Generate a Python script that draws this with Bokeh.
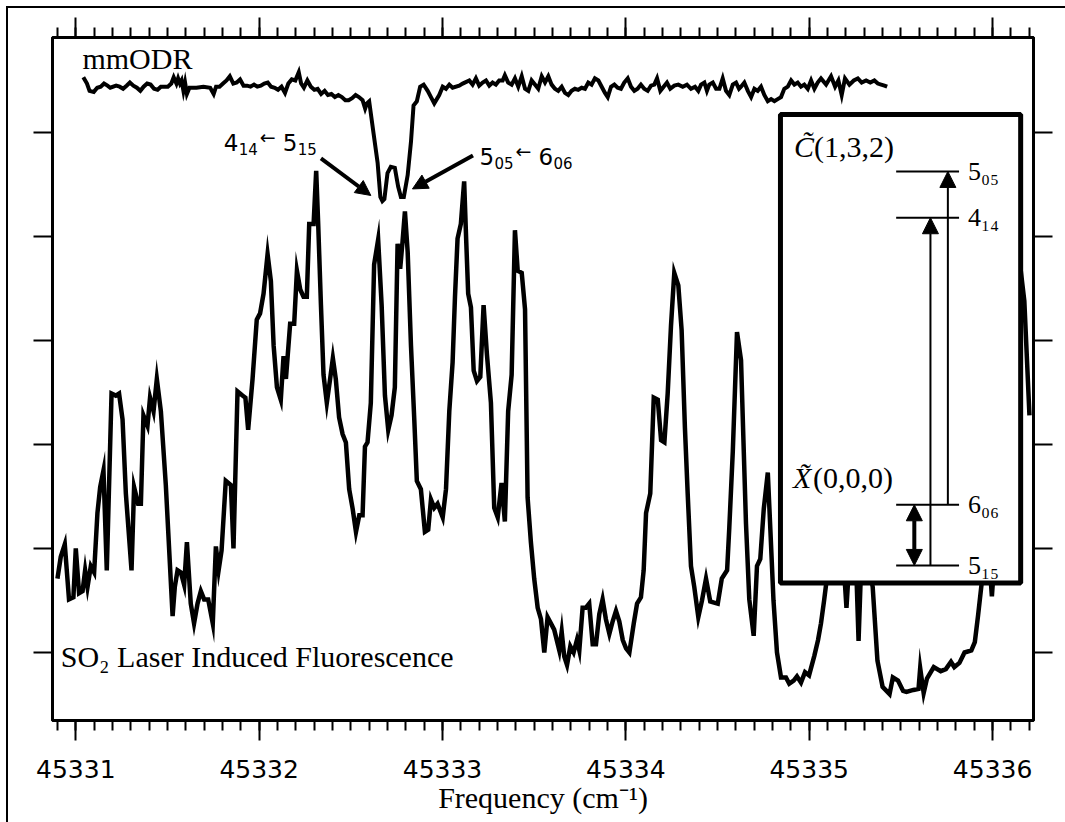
from bokeh.plotting import figure
from bokeh.models import (FixedTicker, LinearAxis, Range1d, Arrow, NormalHead,
                          CustomJSTickFormatter, BasicTickFormatter, GlobalInlineStyleSheet)
from bokeh.embed import file_html
from bokeh.resources import INLINE
from bokeh.core.properties import value

SERIF = "Liberation Serif"
SANS = "DejaVu Sans"

# ---------------- data ----------------
lif_freq = [
    45330.900, 45330.918, 45330.940, 45330.963, 45330.987, 45331.000, 45331.018, 45331.037, 45331.051, 45331.064,
    45331.082, 45331.100, 45331.118, 45331.133, 45331.151, 45331.169, 45331.195, 45331.218, 45331.236, 45331.255,
    45331.273, 45331.304, 45331.318, 45331.340, 45331.355, 45331.369, 45331.391, 45331.405, 45331.424, 45331.442,
    45331.464, 45331.491, 45331.528, 45331.540, 45331.555, 45331.573, 45331.591, 45331.606, 45331.627, 45331.645,
    45331.664, 45331.682, 45331.700, 45331.722, 45331.747, 45331.764, 45331.779, 45331.795, 45331.818, 45331.846,
    45331.860, 45331.882, 45331.909, 45331.925, 45331.940,
    45331.964, 45331.987, 45332.005, 45332.024, 45332.046, 45332.064, 45332.079, 45332.097, 45332.118, 45332.133,
    45332.146, 45332.169, 45332.191, 45332.206, 45332.224, 45332.242, 45332.260, 45332.273, 45332.297, 45332.311,
    45332.322, 45332.337, 45332.351, 45332.369, 45332.387, 45332.402, 45332.418, 45332.436, 45332.455, 45332.473,
    45332.491, 45332.510, 45332.528, 45332.546, 45332.564, 45332.577, 45332.591, 45332.609, 45332.627, 45332.649,
    45332.668, 45332.686, 45332.704, 45332.722, 45332.740, 45332.755, 45332.769, 45332.782, 45332.795, 45332.810,
    45332.828, 45332.846, 45332.860, 45332.882, 45332.904, 45332.922, 45332.937, 45332.955, 45332.973, 45333.001,
    45333.019, 45333.037, 45333.055, 45333.068, 45333.082, 45333.100, 45333.118, 45333.129, 45333.140, 45333.155,
    45333.170, 45333.188, 45333.206, 45333.224, 45333.242, 45333.264, 45333.282, 45333.301, 45333.322, 45333.340,
    45333.358, 45333.377, 45333.395, 45333.410, 45333.432, 45333.450, 45333.464, 45333.482, 45333.500, 45333.519,
    45333.537, 45333.555, 45333.573, 45333.591, 45333.609, 45333.637, 45333.650, 45333.664, 45333.679, 45333.697,
    45333.715, 45333.733, 45333.746, 45333.764, 45333.782, 45333.800, 45333.819, 45333.837, 45333.855, 45333.873,
    45333.891, 45333.910, 45333.928, 45333.946, 45333.964, 45333.983, 45334.001, 45334.019, 45334.043, 45334.061,
    45334.082, 45334.097, 45334.110, 45334.133, 45334.152, 45334.174, 45334.192, 45334.210, 45334.228, 45334.246,
    45334.264, 45334.286, 45334.304, 45334.322, 45334.337, 45334.355, 45334.373, 45334.395, 45334.415, 45334.437,
    45334.460, 45334.481, 45334.501, 45334.523, 45334.552, 45334.564, 45334.583, 45334.606, 45334.628, 45334.643,
    45334.655, 45334.673, 45334.697, 45334.715, 45334.733, 45334.752, 45334.774, 45334.788, 45334.805, 45334.824,
    45334.846, 45334.873, 45334.891, 45334.915, 45334.933, 45334.955, 45334.977, 45334.999, 45335.028, 45335.048,
    45335.064, 45335.081, 45335.108, 45335.163, 45335.190, 45335.203, 45335.217, 45335.255, 45335.269, 45335.283,
    45335.315, 45335.346, 45335.372, 45335.400, 45335.438, 45335.456, 45335.484, 45335.512, 45335.530, 45335.568,
    45335.596, 45335.605, 45335.624, 45335.642, 45335.679, 45335.717, 45335.745, 45335.773, 45335.791, 45335.819,
    45335.847, 45335.884, 45335.903, 45335.921, 45335.940, 45335.965, 45335.984, 45335.996, 45336.008, 45336.074,
    45336.155, 45336.173, 45336.201,
]
lif_intensity = [
    7.1, 9.2, 10.4, 5.1, 5.3, 10.0, 5.7, 5.9, 7.9, 6.3,
    8.3, 7.7, 13.4, 15.9, 17.5, 7.9, 24.9, 24.7, 24.9, 22.4,
    15.3, 7.9, 15.9, 14.3, 14.3, 22.8, 21.8, 24.5, 23.2, 26.3,
    23.2, 16.1, 3.5, 6.3, 7.9, 7.7, 6.5, 10.6, 4.7, 2.8,
    4.7, 5.9, 5.1, 5.1, 2.8, 10.2, 7.9, 9.8, 16.5, 16.1,
    10.0, 25.1, 24.7, 24.5, 21.4,
    26.3, 32.0, 32.6, 34.5, 38.3, 35.7, 29.5, 25.5, 24.3, 28.5,
    26.3, 31.6, 31.6, 36.7, 34.9, 34.2, 34.2, 41.2, 41.2, 46.3,
    41.2, 33.4, 26.7, 24.0, 26.3, 28.3, 26.3, 22.6, 21.0, 20.2,
    15.7, 13.8, 11.6, 13.2, 13.2, 19.8, 20.2, 24.0, 37.3, 39.7,
    33.4, 24.7, 21.4, 22.8, 25.5, 39.3, 36.9, 39.5, 42.4, 38.5,
    29.5, 22.4, 16.5, 15.7, 11.6, 11.8, 14.7, 13.9, 14.3, 13.0,
    15.7, 23.2, 27.9, 34.2, 39.8, 41.2, 45.3, 39.7, 34.5, 33.2,
    27.1, 26.1, 26.5, 33.4, 28.7, 24.0, 13.9, 13.0, 16.3, 12.6,
    23.2, 26.7, 40.6, 36.7, 36.5, 33.0, 14.9, 10.6, 7.1, 4.3,
    3.2, 0.0, 3.4, 2.8, 2.2, 0.2, 2.0, -0.4, -1.2, 0.6,
    0.0, 1.2, 0.2, 4.3, 4.3, 4.7, 0.8, 0.8, 3.7, 5.1,
    3.2, 1.8, 3.0, 4.0, 3.0, 1.2, 0.4, 0.0, 2.8, 4.7,
    5.3, 7.9, 13.4, 15.3, 24.5, 24.3, 20.4, 20.2, 24.9, 31.4,
    36.5, 35.3, 31.0, 21.6, 15.3, 8.3, 6.3, 3.4, 5.0, 7.1,
    4.9, 4.8, 4.7, 7.1, 7.9, 12.0, 19.3, 30.8, 28.1, 19.3,
    12.4, 5.1, 1.6, 8.3, 9.0, 13.8, 17.3, 11.8, 5.0, 0.0,
    -2.4, -2.4, -3.0, -2.7, -2.3, -2.9, -1.9, -2.2, -0.3, 1.2,
    2.8, 5.0, 8.8, 10.8, 7.9, 4.3, 8.4, 8.8, 1.1, 8.4,
    9.3, 6.3, -0.8, -3.3, -4.0, -2.4, -2.7, -3.7, -3.8, -3.6,
    -3.5, -1.5, -3.9, -2.5, -1.4, -1.8, -1.6, -0.9, -1.4, -1.0,
    0.0, 0.2, 1.0, 3.6, 6.6, 8.8, 8.4, 5.4, 8.4, 22.3,
    36.5, 33.8, 22.8,
]

odr_freq = [
    45331.041, 45331.061, 45331.075, 45331.098, 45331.117, 45331.136, 45331.154, 45331.173, 45331.188, 45331.220,
    45331.239, 45331.258, 45331.277, 45331.295, 45331.314, 45331.333, 45331.352, 45331.370, 45331.389, 45331.408,
    45331.427, 45331.446, 45331.464, 45331.502, 45331.521, 45331.534, 45331.549, 45331.558, 45331.568, 45331.577,
    45331.587, 45331.596, 45331.606, 45331.620, 45331.658, 45331.696, 45331.733, 45331.752, 45331.765, 45331.784,
    45331.803, 45331.822, 45331.840, 45331.859, 45331.878, 45331.896, 45331.915, 45331.934, 45331.953, 45331.972,
    45331.990, 45332.009, 45332.028, 45332.047, 45332.065, 45332.085, 45332.103, 45332.122, 45332.141, 45332.159,
    45332.178, 45332.197, 45332.216, 45332.229, 45332.244, 45332.263, 45332.282, 45332.301, 45332.319, 45332.338,
    45332.357, 45332.375, 45332.394, 45332.413, 45332.432, 45332.451, 45332.470, 45332.488, 45332.507, 45332.526,
    45332.544, 45332.564, 45332.578, 45332.588, 45332.600, 45332.624, 45332.646, 45332.661, 45332.672, 45332.683,
    45332.700, 45332.718, 45332.740, 45332.758, 45332.773, 45332.789, 45332.810, 45332.828, 45332.842, 45332.860,
    45332.878, 45332.897, 45332.919, 45332.937, 45332.955, 45332.982, 45333.001, 45333.019, 45333.037, 45333.055,
    45333.091, 45333.110, 45333.146, 45333.164, 45333.182, 45333.200, 45333.219, 45333.237, 45333.255, 45333.273,
    45333.291, 45333.309, 45333.328, 45333.340, 45333.358, 45333.377, 45333.395, 45333.413, 45333.432, 45333.450,
    45333.468, 45333.486, 45333.504, 45333.522, 45333.541, 45333.559, 45333.577, 45333.595, 45333.613, 45333.631,
    45333.650, 45333.668, 45333.686, 45333.704, 45333.722, 45333.740, 45333.759, 45333.777, 45333.795, 45333.813,
    45333.831, 45333.850, 45333.868, 45333.886, 45333.901, 45333.919, 45333.937, 45333.955, 45333.973, 45333.991,
    45334.010, 45334.028, 45334.046, 45334.064, 45334.082, 45334.100, 45334.119, 45334.137, 45334.155, 45334.170,
    45334.188, 45334.206, 45334.224, 45334.242, 45334.264, 45334.286, 45334.310, 45334.333, 45334.355, 45334.377,
    45334.395, 45334.410, 45334.428, 45334.442, 45334.455, 45334.474, 45334.492, 45334.510, 45334.528, 45334.546,
    45334.564, 45334.583, 45334.601, 45334.617, 45334.628, 45334.646, 45334.665, 45334.683, 45334.701, 45334.719,
    45334.737, 45334.755, 45334.774, 45334.792, 45334.810, 45334.828, 45334.846, 45334.864, 45334.883, 45334.901,
    45334.919, 45334.937, 45334.955, 45334.973, 45334.992, 45335.010, 45335.028, 45335.046, 45335.064, 45335.092,
    45335.119, 45335.141, 45335.159, 45335.177, 45335.195, 45335.219, 45335.243, 45335.265, 45335.286, 45335.310,
    45335.333, 45335.355, 45335.374, 45335.392, 45335.410, 45335.425,
]
odr_signal = [
    55.3, 54.7, 54.0, 53.9, 54.3, 54.4, 54.7, 54.5, 54.3, 54.5,
    54.4, 54.2, 54.5, 54.8, 54.5, 54.3, 54.0, 54.4, 54.7, 54.6,
    54.2, 54.1, 54.4, 54.4, 54.7, 55.3, 54.7, 55.2, 54.7, 55.0,
    54.0, 54.8, 53.7, 54.3, 54.3, 54.4, 54.3, 53.7, 54.4, 54.4,
    54.7, 55.0, 55.4, 54.7, 54.8, 55.1, 54.5, 54.5, 54.4, 54.6,
    54.4, 54.5, 54.7, 54.8, 54.4, 54.3, 54.1, 54.4, 53.8, 54.7,
    55.1, 55.0, 55.8, 54.7, 54.3, 55.0, 54.4, 54.1, 54.2, 53.7,
    54.0, 53.6, 53.7, 53.4, 53.6, 53.4, 53.1, 53.1, 53.3, 53.6,
    53.4, 53.1, 52.3, 52.8, 53.0, 49.9, 47.1, 43.8, 43.4, 43.6,
    46.1, 46.7, 46.6, 44.8, 43.8, 43.8, 45.9, 49.1, 52.6, 53.0,
    54.4, 54.6, 54.0, 53.4, 52.8, 53.6, 54.4, 54.2, 54.6, 54.3,
    54.5, 54.7, 55.0, 54.6, 55.2, 54.5, 54.8, 55.0, 54.5, 54.8,
    54.6, 55.0, 55.0, 55.5, 54.8, 54.6, 55.2, 54.4, 55.4, 54.2,
    54.0, 55.0, 54.6, 54.2, 55.4, 54.8, 55.4, 54.6, 54.2, 54.0,
    54.4, 53.8, 53.6, 54.0, 54.2, 54.1, 54.3, 54.2, 54.8, 54.6,
    55.2, 55.0, 54.4, 53.8, 53.4, 54.4, 54.6, 54.3, 54.2, 54.8,
    55.2, 54.4, 54.0, 54.2, 54.6, 54.2, 54.0, 54.5, 54.6, 55.2,
    54.0, 54.4, 54.8, 54.2, 54.5, 54.6, 54.4, 54.6, 54.2, 54.4,
    54.0, 54.6, 54.8, 54.0, 54.6, 54.8, 54.2, 54.2, 55.2, 54.0,
    53.6, 54.6, 54.8, 54.2, 54.4, 54.8, 54.0, 53.4, 54.2, 54.0,
    54.4, 53.6, 53.0, 53.2, 53.0, 53.2, 53.4, 54.2, 54.4, 55.0,
    54.6, 54.8, 54.4, 54.6, 54.2, 55.0, 54.2, 54.8, 55.2, 54.6,
    55.4, 54.4, 55.0, 53.6, 55.2, 54.6, 55.0, 55.2, 54.8, 55.0,
    54.8, 55.0, 54.7, 54.6, 54.5, 54.4,
]

x_ticks = [45331, 45332, 45333, 45334, 45335, 45336]
y_ticks = [0, 10, 20, 30, 40, 50]

# energy-level diagram (inset)
level_labels = ["5\u2080\u2085", "4\u2081\u2084", "6\u2080\u2086", "5\u2081\u2085"]
level_y = [46.25, 41.80, 14.20, 8.37]

# ---------------- figure ----------------
p = figure(width=1065, height=822,
           x_range=Range1d(45330.873, 45336.223), y_range=Range1d(-6.54, 59.13),
           output_backend="svg", toolbar_location=None,
           x_axis_location=None, y_axis_location=None,
           min_border_left=52, min_border_right=32, min_border_top=37, min_border_bottom=102)
# outer page rules (top and left edge of the figure sheet)
page_rules = GlobalInlineStyleSheet(css="""
html::before { content: ""; position: fixed; left: 6px; top: 6px; width: 2px; height: 100vh;
               background: black; z-index: 10; pointer-events: none; }
html::after  { content: ""; position: fixed; left: 6px; top: 6px; width: 100vw; height: 2px;
               background: black; z-index: 10; pointer-events: none; }
""")
p.stylesheets = [page_rules]
p.grid.visible = False
p.background_fill_color = "white"
p.border_fill_color = "white"
p.outline_line_color = "black"
p.outline_line_width = 3

minor_x = [round(45330.9 + 0.1 * i, 1) for i in range(54)]
xt = FixedTicker(ticks=x_ticks, minor_ticks=minor_x)
yt = FixedTicker(ticks=y_ticks, minor_ticks=[])
blank = CustomJSTickFormatter(code="return ''")


def style_axis(ax, major_out, minor_out):
    ax.axis_line_width = 3
    ax.axis_line_color = "black"
    ax.major_tick_line_width = 2
    ax.minor_tick_line_width = 2
    ax.major_tick_in = 0
    ax.minor_tick_in = 0
    ax.major_tick_out = major_out
    ax.minor_tick_out = minor_out


bottom = LinearAxis(ticker=xt, formatter=BasicTickFormatter(use_scientific=False),
                    axis_label="Frequency (cm\u207b\u00b9)")
style_axis(bottom, 20, 10)
bottom.major_label_text_font = SANS
bottom.major_label_text_font_size = "25px"
bottom.major_label_text_color = "black"
bottom.major_label_standoff = 19
bottom.axis_label_text_font = SERIF
bottom.axis_label_text_font_size = "30px"
bottom.axis_label_text_font_style = "normal"
bottom.axis_label_text_color = "black"
bottom.axis_label_standoff = 0
p.add_layout(bottom, "below")

top = LinearAxis(ticker=xt, formatter=blank, major_label_standoff=0)
style_axis(top, 20, 10)
p.add_layout(top, "above")

left = LinearAxis(ticker=yt, formatter=blank, major_label_standoff=0)
style_axis(left, 19, 0)
p.add_layout(left, "left")

right = LinearAxis(ticker=yt, formatter=blank, major_label_standoff=0)
style_axis(right, 19, 0)
p.add_layout(right, "right")

# ---------------- traces ----------------
p.line(lif_freq, lif_intensity, line_color="black", line_width=4.5, line_join="miter")
p.line(odr_freq, odr_signal, line_color="black", line_width=4, line_join="miter")


def txt(x, y, s, size, font=SERIF, style="normal", dx=0, dy=0):
    p.text(x=[x], y=[y], text=[s], x_offset=dx, y_offset=dy, text_font=value(font),
           text_font_style=style, text_font_size=size, text_baseline="middle",
           text_align="left", text_color="black")


txt(45331.036, 57.08, "mmODR", "30px")
txt(45330.918, -0.37, "SO\u2082 Laser Induced Fluorescence", "30px")


# transition labels  J_KaKc <- J'_Ka'Kc'
def trans_label(x, y, a, asub, b, bsub):
    txt(x, y, a, "23px", SANS)
    txt(x, y, asub, "15px", SANS, dx=15, dy=7)
    txt(x, y, "\u2190", "19px", SANS, dx=36, dy=-5)
    txt(x, y, b, "23px", SANS, dx=59)
    txt(x, y, bsub, "15px", SANS, dx=74, dy=7)


trans_label(45331.807, 49.04, "4", "14", "5", "15")
trans_label(45333.202, 47.69, "5", "05", "6", "06")

for xs, ys, xe, ye in [(45332.337, 47.5, 45332.609, 43.94), (45333.166, 47.79, 45332.836, 44.57)]:
    p.add_layout(Arrow(end=NormalHead(size=15, fill_color="black", line_color="black", line_width=1),
                       x_start=xs, y_start=ys, x_end=xe, y_end=ye,
                       line_width=4, line_color="black"))

# ---------------- inset ----------------
p.quad(left=[45334.843], right=[45336.153], top=[51.73], bottom=[6.68],
       fill_color="white", line_color="black", line_width=5)
p.segment(x0=[45335.474] * 4, x1=[45335.817] * 4, y0=level_y, y1=level_y,
          line_color="black", line_width=2)
p.text(x=[45335.866] * 4, y=level_y, text=level_labels, text_font=value(SERIF),
       text_font_size="26px", text_baseline="middle", text_align="left", text_color="black")

txt(45334.917, 48.67, "C\u0303", "30px", style="italic")
txt(45334.917, 48.67, "(1,3,2)", "30px", dx=20)
txt(45334.912, 16.78, "X\u0303", "30px", style="italic")
txt(45334.912, 16.78, "(0,0,0)", "30px", dx=20)

# transitions 5_15 -> 4_14 and 6_06 -> 5_05
p.add_layout(Arrow(end=NormalHead(size=16, fill_color="black", line_color="black", line_width=1),
                   x_start=45335.661, y_start=level_y[3], x_end=45335.661, y_end=level_y[1],
                   line_width=2, line_color="black"))
p.add_layout(Arrow(end=NormalHead(size=16, fill_color="black", line_color="black", line_width=1),
                   x_start=45335.756, y_start=level_y[2], x_end=45335.756, y_end=level_y[0],
                   line_width=2, line_color="black"))
# mm-wave double resonance between 6_06 and 5_15
p.add_layout(Arrow(start=NormalHead(size=16, fill_color="black", line_color="black", line_width=1),
                   end=NormalHead(size=16, fill_color="black", line_color="black", line_width=1),
                   x_start=45335.573, y_start=level_y[3], x_end=45335.573, y_end=level_y[2],
                   line_width=4, line_color="black"))

open("out.html", "w").write(file_html(p, INLINE))
